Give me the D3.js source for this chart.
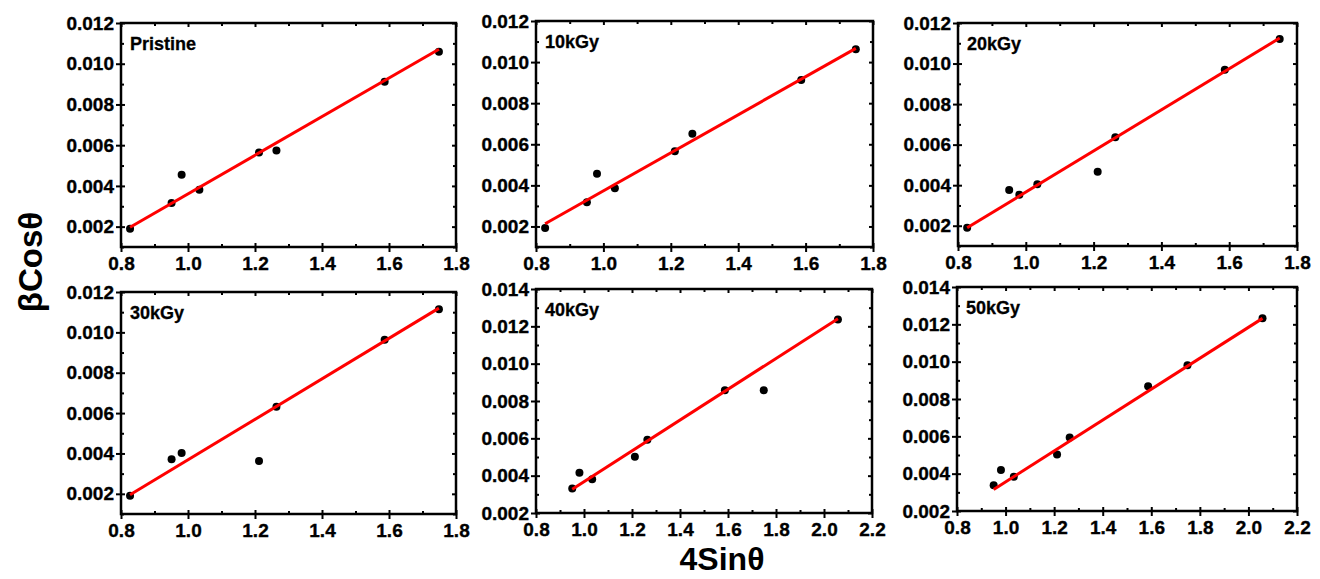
<!DOCTYPE html>
<html><head><meta charset="utf-8">
<script src="https://cdn.jsdelivr.net/npm/d3@7"></script>
<style>
html,body{margin:0;padding:0;background:#fff;}
svg{display:block;font-family:"Liberation Sans",Arial,sans-serif;}
</style></head>
<body>
<svg id="c" width="1320" height="579"></svg>
<script>
// ---- data ----
const panelNames = ["Pristine","10kGy","20kGy","30kGy","40kGy","50kGy"];
const xPristine = [0.827,0.951,0.981,1.034,1.212,1.264,1.587,1.749];
const yPristine = [0.0019,0.00316,0.00455,0.00381,0.00564,0.00574,0.00911,0.01059];
const x10 = [0.827,0.951,0.981,1.034,1.212,1.264,1.587,1.749];
const y10 = [0.00192,0.00318,0.00456,0.00386,0.00566,0.00651,0.00913,0.01062];
const x20 = [0.827,0.951,0.981,1.034,1.212,1.264,1.587,1.749];
const y20 = [0.0019,0.00376,0.00353,0.00405,0.00466,0.00637,0.0097,0.01121];
const x30 = [0.827,0.951,0.981,1.212,1.264,1.587,1.749];
const y30 = [0.0019,0.00371,0.00402,0.00363,0.00632,0.00964,0.01115];
const x40 = [0.951,0.981,1.034,1.212,1.264,1.587,1.749,2.058];
const y40 = [0.00331,0.00416,0.00381,0.00502,0.00592,0.00857,0.00857,0.01236];
const x50 = [0.951,0.981,1.034,1.212,1.264,1.587,1.749,2.058];
const y50 = [0.00338,0.00419,0.00383,0.00503,0.00594,0.00868,0.00981,0.01232];
// linear fit end points: [x0, y0, x1, y1]
const fitPristine = [0.827,0.00197,1.749,0.01071];
const fit10 = [0.827,0.00213,1.749,0.01067];
const fit20 = [0.827,0.0019,1.749,0.01126];
const fit30 = [0.827,0.00195,1.749,0.0112];
const fit40 = [0.951,0.00327,2.058,0.01241];
const fit50 = [0.951,0.00315,2.058,0.01232];
const xDomainA = [0.8,1.8], xDomainB = [0.8,2.2];
const yDomainA = [0.001,0.012], yDomainB = [0.002,0.014];
const xLabel = "4Sinθ", yLabel = "βCosθ";

// ---- layout ----
const panels = [
  {name:panelNames[0], xs:xPristine, ys:yPristine, fit:fitPristine, xd:xDomainA, yd:yDomainA, box:[121,456,23,247]},
  {name:panelNames[1], xs:x10, ys:y10, fit:fit10, xd:xDomainA, yd:yDomainA, box:[536,873,21,247]},
  {name:panelNames[2], xs:x20, ys:y20, fit:fit20, xd:xDomainA, yd:yDomainA, box:[958,1297,23,246]},
  {name:panelNames[3], xs:x30, ys:y30, fit:fit30, xd:xDomainA, yd:yDomainA, box:[121,456,292,514]},
  {name:panelNames[4], xs:x40, ys:y40, fit:fit40, xd:xDomainB, yd:yDomainB, box:[536,872,289,513]},
  {name:panelNames[5], xs:x50, ys:y50, fit:fit50, xd:xDomainB, yd:yDomainB, box:[957,1297,287,511]}
];

const svg = d3.select("#c");

function range(a,b,s){const r=[];for(let v=a;v<=b+1e-9;v+=s)r.push(+v.toFixed(4));return r;}

panels.forEach(p=>{
  const [L,R,T,B] = p.box;
  const x = d3.scaleLinear().domain(p.xd).range([L,R]);
  const y = d3.scaleLinear().domain(p.yd).range([B,T]);
  const g = svg.append("g");
  const xMajor = range(p.xd[0],p.xd[1],0.2);
  const xMinor = range(p.xd[0]+0.1,p.xd[1],0.2);
  const yMajor = range(0.002,p.yd[1],0.002);
  const yMinor = range(p.yd[0],p.yd[1],0.001).filter(v=>yMajor.every(m=>Math.abs(m-v)>1e-6));

  function styleAxis(sel){
    sel.select(".domain").remove();
    sel.selectAll("line").attr("stroke","#000").attr("stroke-width",2);
    sel.selectAll("text").attr("fill","#000").attr("stroke","#000").attr("stroke-width",0.35)
      .style("font-size","19px").style("font-weight","bold");
  }
  // bottom
  const gb = g.append("g").attr("transform",`translate(0,${B})`)
    .call(d3.axisBottom(x).tickValues(xMajor).tickFormat(d3.format(".1f")).tickSize(5).tickPadding(5));
  styleAxis(gb); gb.selectAll("line").attr("y1",-4);
  const gbm = g.append("g").attr("transform",`translate(0,${B})`)
    .call(d3.axisBottom(x).tickValues(xMinor).tickFormat("").tickSize(-3));
  styleAxis(gbm);
  // top (mirror, inward)
  const gt = g.append("g").attr("transform",`translate(0,${T})`)
    .call(d3.axisTop(x).tickValues(xMajor).tickFormat("").tickSize(-4));
  styleAxis(gt);
  const gtm = g.append("g").attr("transform",`translate(0,${T})`)
    .call(d3.axisTop(x).tickValues(xMinor).tickFormat("").tickSize(-3));
  styleAxis(gtm);
  // left
  const gl = g.append("g").attr("transform",`translate(${L},0)`)
    .call(d3.axisLeft(y).tickValues(yMajor).tickFormat(d3.format(".3f")).tickSize(5).tickPadding(2));
  styleAxis(gl); gl.selectAll("line").attr("x1",4);
  const glm = g.append("g").attr("transform",`translate(${L},0)`)
    .call(d3.axisLeft(y).tickValues(yMinor).tickFormat("").tickSize(-3));
  styleAxis(glm);
  // right
  const gr = g.append("g").attr("transform",`translate(${R},0)`)
    .call(d3.axisRight(y).tickValues(yMajor).tickFormat("").tickSize(-4));
  styleAxis(gr);
  const grm = g.append("g").attr("transform",`translate(${R},0)`)
    .call(d3.axisRight(y).tickValues(yMinor).tickFormat("").tickSize(-3));
  styleAxis(grm);
  // frame
  g.append("rect").attr("x",L).attr("y",T).attr("width",R-L).attr("height",B-T)
    .attr("fill","none").attr("stroke","#000").attr("stroke-width",2.5);

  // points
  g.append("g").selectAll("circle").data(p.xs.map((v,i)=>[v,p.ys[i]])).join("circle")
    .attr("cx",d=>x(d[0])).attr("cy",d=>y(d[1])).attr("r",4).attr("fill","#000");
  // fit line
  const f = p.fit;
  g.append("line").attr("x1",x(f[0])).attr("y1",y(f[1])).attr("x2",x(f[2])).attr("y2",y(f[3]))
    .attr("stroke","#ff0000").attr("stroke-width",3);
  // panel label
  g.append("text").attr("x",L+9).attr("y",T+27).text(p.name)
    .style("font-size","18px").style("font-weight","bold").attr("fill","#000")
    .attr("stroke","#000").attr("stroke-width",0.3);
});

svg.append("text").attr("x",722).attr("y",570).attr("text-anchor","middle")
  .style("font-size","32px").style("font-weight","bold").text(xLabel);
svg.append("text").attr("transform","translate(42,262) rotate(-90)").attr("text-anchor","middle")
  .style("font-size","33px").style("font-weight","bold").text(yLabel);
</script>
</body></html>
